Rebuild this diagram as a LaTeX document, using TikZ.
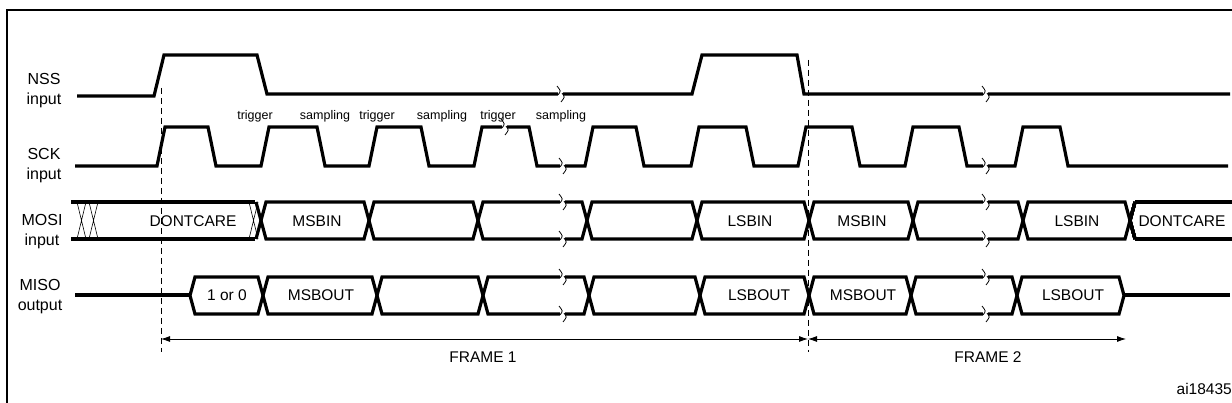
\documentclass[tikz,border=0pt]{standalone}
\usepackage{fontspec}
\setmainfont{Liberation Sans}
\usetikzlibrary{arrows.meta}
\tikzset{
  sig/.style={line width=3.2pt, line join=miter},
  lbl/.style={font=\fontsize{15.5}{18}\selectfont, inner sep=0pt},
  small/.style={font=\fontsize{12.5}{14}\selectfont, inner sep=0pt},
  rowname/.style={font=\fontsize{16}{20}\selectfont, align=center, inner sep=0pt},
}
% break mark on a line
\newcommand{\brk}[2]{%
  \fill[white] (#1-2,#2-8) rectangle (#1+3,#2+8);
  \draw[line width=.8pt] (#1-3,#2-8) .. controls (#1+1,#2-3) .. (#1-2,#2+1);
  \draw[line width=.8pt] (#1+2,#2-1) .. controls (#1+5,#2+3) .. (#1+1,#2+8);}
% one bus segment between two transitions
\newcommand{\seg}[4]{% left, right, top, bottom
  \draw[sig] (#1+5,#3)--(#2-5,#3)--(#2,{(#3+#4)/2})--(#2-5,#4)--(#1+5,#4)--(#1,{(#3+#4)/2})--cycle;}
\begin{document}
\begin{tikzpicture}[x=1pt, y=-1pt]
\useasboundingbox (0,0) rectangle (1232,403);
\draw[line width=1.2pt] (7,420)--(7,10)--(1240,10);

% row names
\node[rowname] (nss) at (44,91) {NSS\\input};
\node[rowname] (sck) at (44,166) {SCK\\input};
\node[rowname] (mosi) at (42,232) {MOSI\\input};
\node[rowname] (miso) at (40,297) {MISO\\output};

% NSS
\draw[sig] (77,96)--(154,96)--(164,55)--(257,55)--(267,94)--(692,94)--(702,55)--(797,55)--(804,94)--(1230,94);
\brk{560}{94} \brk{985}{94}

% SCK
\draw[sig] (75,166)
  foreach \r/\f in {157/208,261/317,369/421,474/529,585/636,691/746,798/852,905/959,1015/1060}
  { --(\r,166)--(\r+8,127)--(\f,127)--(\f+8,166) } --(1228,166);
\brk{504}{127} \brk{562}{166} \brk{985}{166}
\foreach \x/\t [count=\i] in {255/trigger,325/sampling,377/trigger,442/sampling,498/trigger,561/sampling}
  \node[small] (trg\i) at (\x,116) {\t};

% MOSI
\draw[sig] (71,202)--(255,202) (71,239)--(255,239);
\foreach \x in {77,89,249}
  \draw[line width=.6pt] (\x,202)--(\x+9,239) (\x,239)--(\x+9,202);
\foreach \a/\b in {261/369,369/478,478/587,587/697,697/809,809/913,913/1023,1023/1130}
  \seg{\a}{\b}{202}{239}
\draw[sig] (1135,202)--(1130,220.5)--(1135,239);
\draw[sig] (1135,202)--(1232,202) (1135,239)--(1232,239);
\draw[sig] (256,202)--(261,220.5)--(256,239);
\brk{562}{202} \brk{562}{239} \brk{985}{202} \brk{985}{239}
\node[lbl] (din1) at (193,221) {DONTCARE};
\node[lbl] (msbin1) at (317,221) {MSBIN};
\node[lbl] (lsbin1) at (750,221) {LSBIN};
\node[lbl] (msbin2) at (862,221) {MSBIN};
\node[lbl] (lsbin2) at (1077,221) {LSBIN};
\node[lbl] (din2) at (1182,221) {DONTCARE};

% MISO
\draw[sig] (75,295)--(190,295);
\foreach \a/\b in {190/263,263/377,377/483,483/589,589/700,700/809,809/911,911/1017,1017/1124}
  \seg{\a}{\b}{277}{314}
\draw[sig] (1124,295)--(1230,295);
\brk{562}{277} \brk{562}{314} \brk{985}{277} \brk{985}{314}
\node[lbl] (one) at (227,295) {1 or 0};
\node[lbl] (msbout1) at (321,295) {MSBOUT};
\node[lbl] (lsbout1) at (759,295) {LSBOUT};
\node[lbl] (msbout2) at (863,295) {MSBOUT};
\node[lbl] (lsbout2) at (1073,295) {LSBOUT};

% frames
\coordinate (f0) at (161,339);
\coordinate (f1) at (808,339);
\coordinate (f2) at (1126,339);
\draw[line width=.8pt, dash pattern=on 6pt off 4pt] (161,88)--(161,352) (808,60)--(808,352);
\draw[line width=.8pt, {Latex[length=9pt,width=6pt]}-{Latex[length=9pt,width=6pt]}] (f0)--(f1);
\draw[line width=.8pt, {Latex[length=9pt,width=6pt]}-{Latex[length=9pt,width=6pt]}] (f1)--(f2);
\node[lbl] (fr1) at (483,357) {FRAME 1};
\node[lbl] (fr2) at (988,357) {FRAME 2};
\node[lbl, anchor=east] (id) at (1232,389) {ai18435};
\end{tikzpicture}
\end{document}
